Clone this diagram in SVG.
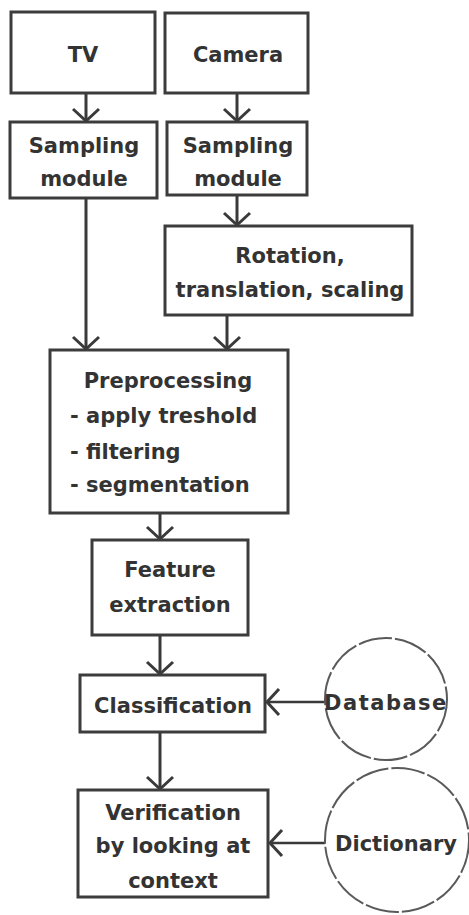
<svg xmlns="http://www.w3.org/2000/svg" width="469" height="915" viewBox="0 0 469 915">
<defs>
<style>
.box{fill:#fff;stroke:#3c3c3c;stroke-width:3}
.t{font-family:"DejaVu Sans",Verdana,sans-serif;font-weight:bold;font-size:21px;fill:#333;text-anchor:middle}
.l{text-anchor:start}
.c{stroke:#3a3a3a;stroke-width:3;fill:none}
.h{stroke:#3a3a3a;stroke-width:2.5;fill:none}
.db{fill:none;stroke:#5a5a5a;stroke-width:2;stroke-dasharray:34 3}
</style>
<marker id="arr" viewBox="0 0 30 30" markerWidth="30" markerHeight="30" refX="14" refY="15" orient="auto" markerUnits="userSpaceOnUse">
<path d="M2,2 L14,15 L2,28" fill="none" stroke="#3a3a3a" stroke-width="3"/>
</marker>
</defs>
<rect width="469" height="915" fill="#fff"/>
<g id="connectors">
<line class="c" x1="86" y1="93" x2="86" y2="121" marker-end="url(#arr)"/>
<line class="c" x1="237" y1="93" x2="237" y2="121" marker-end="url(#arr)"/>
<line class="c" x1="237" y1="195" x2="237" y2="225" marker-end="url(#arr)"/>
<line class="c" x1="86" y1="198" x2="86" y2="349" marker-end="url(#arr)"/>
<line class="c" x1="227" y1="315" x2="227" y2="349" marker-end="url(#arr)"/>
<line class="c" x1="160" y1="513" x2="160" y2="539" marker-end="url(#arr)"/>
<line class="c" x1="160" y1="635" x2="160" y2="674" marker-end="url(#arr)"/>
<line class="c" x1="160" y1="732" x2="160" y2="789" marker-end="url(#arr)"/>
<line class="h" x1="325" y1="702" x2="267" y2="702" marker-end="url(#arr)"/>
<line class="h" x1="325" y1="843" x2="270" y2="843" marker-end="url(#arr)"/>
</g>
<g id="tv">
<rect class="box" x="11" y="12" width="144" height="81"/>
<text class="t" x="83" y="62" font-size="27">TV</text>
</g>
<g id="camera">
<rect class="box" x="165" y="13" width="143" height="80"/>
<text class="t" x="238" y="62" font-size="26">Camera</text>
</g>
<g id="sampling-tv">
<rect class="box" x="10" y="122" width="147" height="76"/>
<text class="t" x="84" y="153" font-size="20">Sampling</text>
<text class="t" x="84" y="186" font-size="20">module</text>
</g>
<g id="sampling-camera">
<rect class="box" x="167" y="122" width="140" height="73"/>
<text class="t" x="238" y="153" font-size="20">Sampling</text>
<text class="t" x="238" y="186" font-size="20">module</text>
</g>
<g id="rotation">
<rect class="box" x="165" y="226" width="247" height="89"/>
<text class="t" x="290" y="263">Rotation,</text>
<text class="t" x="290" y="297">translation, scaling</text>
</g>
<g id="preprocessing">
<rect class="box" x="50" y="350" width="238" height="163"/>
<text class="t" x="168" y="388">Preprocessing</text>
<text class="t l" x="70" y="423">- apply treshold</text>
<text class="t l" x="70" y="459">- filtering</text>
<text class="t l" x="70" y="492">- segmentation</text>
</g>
<g id="feature">
<rect class="box" x="92" y="540" width="156" height="95"/>
<text class="t" x="170" y="577">Feature</text>
<text class="t" x="170" y="612">extraction</text>
</g>
<g id="classification">
<rect class="box" x="80" y="675" width="185" height="57"/>
<text class="t" x="173" y="713">Classification</text>
</g>
<g id="verification">
<rect class="box" x="78" y="790" width="190" height="107"/>
<text class="t" x="173" y="820">Verification</text>
<text class="t" x="173" y="853">by looking at</text>
<text class="t" x="173" y="888">context</text>
</g>
<g id="database">
<circle class="db" cx="386" cy="699" r="61"/>
<text class="t" x="386" y="710" letter-spacing="1.5">Database</text>
</g>
<g id="dictionary">
<circle class="db" cx="397" cy="840" r="72"/>
<text class="t" x="396" y="851">Dictionary</text>
</g>
</svg>
